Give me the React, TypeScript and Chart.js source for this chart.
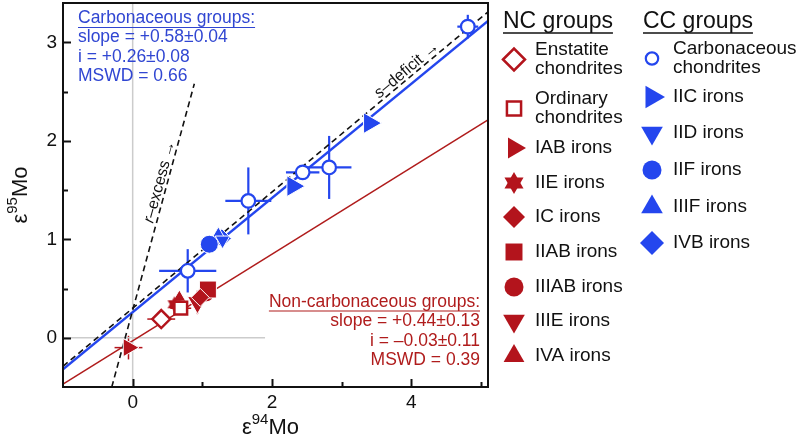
import React, { useEffect, useRef } from 'react';
import { Chart, registerables } from 'chart.js';
import { drawPoint } from 'chart.js/helpers';

Chart.register(...registerables);

const BLUE = '#2446ee';
const BLUE_TEXT = '#3046d2';
const RED = '#b3141c';
const RED_LINE = '#b01c1c';
const FONT = '"Liberation Sans", Arial, Helvetica, sans-serif';

// ---- axes ----
const xMin = -1;
const xMax = 5.1;
const yMin = -0.5;
const yMax = 3.4;
const xTicks = [0, 2, 4];
const xMinorTicks = [1, 3, 5];
const yTicks = [0, 1, 2, 3];
const yMinorTicks = [0.5, 1.5, 2.5];

// ---- CC groups (ε94Mo, ε95Mo) ----
const ccChondX = [0.79, 1.66, 2.44, 2.82, 4.81];
const ccChondY = [0.68, 1.39, 1.68, 1.73, 3.16];
const ccChondXErr = [0.41, 0.33, 0.24, 0.32, 0.15];
const ccChondYErr = [0.22, 0.34, 0.06, 0.32, 0.12];
const iicX = [2.3, 3.4];
const iicY = [1.54, 2.18];
const iidX = [1.29];
const iidY = [0.99];
const iifX = [1.1];
const iifY = [0.95];
const iiifX = [1.23];
const iiifY = [1.04];
const ivbX = [1.28];
const ivbY = [1.01];

// ---- NC groups ----
const ecX = [0.41];
const ecY = [0.19];
const ecXErr = [0.2];
const ecYErr = [0.05];
const ocX = [0.69];
const ocY = [0.3];
const ocXErr = [0.15];
const ocYErr = [0.06];
const iabX = [-0.06];
const iabY = [-0.1];
const iabXErr = [0.2];
const iabYErr = [0.12];
const iieX = [0.6];
const iieY = [0.34];
const icX = [0.97];
const icY = [0.41];
const iiabX = [1.08];
const iiabY = [0.49];
const iiiabX = [1.05];
const iiiabY = [0.45];
const iiieX = [0.93];
const iiieY = [0.36];
const iiieXErr = [0.05];
const iiieYErr = [0.12];
const ivaX = [0.67];
const ivaY = [0.41];

// ---- lines ----
const ccSlope = 0.58;
const ccIntercept = 0.26;
const ncSlope = 0.44;
const ncIntercept = -0.03;
const fitX = [xMin, xMax];
const sDefX = [-1, 5.1];
const sDefY = [-0.29, 3.31];
const rExcX = [-0.3, 0.885];
const rExcY = [-0.5, 2.58];
const refVX = [0, 0];
const refVY = [yMin, yMax];
const refHX = [xMin, 1.9];
const refHY = [0, 0];

// ---- texts ----
const ccStats = ['Carbonaceous groups:', 'slope = +0.58±0.04', 'i = +0.26±0.08', 'MSWD = 0.66'];
const ncStats = ['Non-carbonaceous groups:', 'slope = +0.44±0.13', 'i = –0.03±0.11', 'MSWD = 0.39'];
const ncTitle = 'NC groups';
const ccTitle = 'CC groups';

function makeHexagram(r: number, color: string) {
  const c = document.createElement('canvas');
  const s = Math.ceil(r * 2 + 2);
  c.width = s;
  c.height = s;
  const ctx = c.getContext('2d')!;
  ctx.fillStyle = color;
  const cx = s / 2;
  const cy = s / 2;
  for (const off of [0, Math.PI]) {
    ctx.beginPath();
    for (let k = 0; k < 3; k++) {
      const a = off + (k * 2 * Math.PI) / 3 - Math.PI / 2;
      const px = cx + r * Math.cos(a);
      const py = cy + r * Math.sin(a);
      if (k) ctx.lineTo(px, py);
      else ctx.moveTo(px, py);
    }
    ctx.closePath();
    ctx.fill();
  }
  return c;
}

type Grp = {
  label: string[];
  x: number[];
  y: number[];
  ex?: number[];
  ey?: number[];
  errW?: number;
  style: any;
  rotation?: number;
  radius: number;
  fill: string;
  border: string;
  bw: number;
  legendR: number;
  legendStyle?: any;
  legendBw?: number;
};

function zip(x: number[], y: number[]) {
  return x.map((v, i) => ({ x: v, y: y[i] }));
}

export default function App() {
  const ref = useRef<HTMLCanvasElement>(null);
  useEffect(() => {
    document.body.style.margin = '0';
    const hexPlot = makeHexagram(8, RED);
    const hexLegend = makeHexagram(11, RED);

    const ncGroups: Grp[] = [
      { label: ['Enstatite', 'chondrites'], x: ecX, y: ecY, ex: ecXErr, ey: ecYErr, errW: 1.5, style: 'rectRot', radius: 9, fill: '#ffffff', border: RED, bw: 2.5, legendR: 11 },
      { label: ['Ordinary', 'chondrites'], x: ocX, y: ocY, ex: ocXErr, ey: ocYErr, errW: 1.5, style: 'rect', radius: 9, fill: '#ffffff', border: RED, bw: 2.5, legendR: 10 },
      { label: ['IAB irons'], x: iabX, y: iabY, ex: iabXErr, ey: iabYErr, errW: 1.5, style: 'triangle', rotation: 90, radius: 10.5, fill: RED, border: '#ffffff', bw: 1, legendR: 12 },
      { label: ['IIE irons'], x: iieX, y: iieY, style: hexPlot, radius: 8, fill: RED, border: '#ffffff', bw: 1, legendR: 11, legendStyle: hexLegend },
      { label: ['IC irons'], x: icX, y: icY, style: 'rectRot', radius: 9, fill: RED, border: '#ffffff', bw: 1, legendR: 11 },
      { label: ['IIAB irons'], x: iiabX, y: iiabY, style: 'rect', radius: 12, fill: RED, border: '#ffffff', bw: 1, legendR: 12 },
      { label: ['IIIAB irons'], x: iiiabX, y: iiiabY, style: 'circle', radius: 8.5, fill: RED, border: '#ffffff', bw: 1, legendR: 9.5 },
      { label: ['IIIE irons'], x: iiieX, y: iiieY, ex: iiieXErr, ey: iiieYErr, errW: 1.5, style: 'triangle', rotation: 180, radius: 11.5, fill: RED, border: '#ffffff', bw: 1, legendR: 12.5 },
      { label: ['IVA irons'], x: ivaX, y: ivaY, style: 'triangle', radius: 7.5, fill: RED, border: '#ffffff', bw: 1, legendR: 12 },
    ];
    const ccGroups: Grp[] = [
      { label: ['Carbonaceous', 'chondrites'], x: ccChondX, y: ccChondY, ex: ccChondXErr, ey: ccChondYErr, errW: 2.2, style: 'circle', radius: 6.8, fill: '#ffffff', border: BLUE, bw: 2.2, legendR: 6.2, legendBw: 2.2 },
      { label: ['IIC irons'], x: iicX, y: iicY, style: 'triangle', rotation: 90, radius: 12, fill: BLUE, border: '#ffffff', bw: 1, legendR: 13 },
      { label: ['IID irons'], x: iidX, y: iidY, style: 'triangle', rotation: 180, radius: 8.5, fill: BLUE, border: '#ffffff', bw: 1, legendR: 12.5 },
      { label: ['IIF irons'], x: iifX, y: iifY, style: 'circle', radius: 9, fill: BLUE, border: '#ffffff', bw: 1, legendR: 9.5 },
      { label: ['IIIF irons'], x: iiifX, y: iiifY, style: 'triangle', radius: 8.5, fill: BLUE, border: '#ffffff', bw: 1, legendR: 12.5 },
      { label: ['IVB irons'], x: ivbX, y: ivbY, style: 'rectRot', radius: 9.5, fill: BLUE, border: '#ffffff', bw: 1, legendR: 12 },
    ];

    const pointSets = [...ncGroups, ...ccGroups].map((g) => ({
      type: 'scatter' as const,
      label: g.label.join(' '),
      data: zip(g.x, g.y),
      pointStyle: g.style,
      pointRotation: g.rotation || 0,
      rotation: g.rotation || 0,
      pointRadius: g.radius,
      pointHoverRadius: g.radius,
      backgroundColor: g.fill,
      borderColor: g.border,
      pointBorderWidth: g.bw,
      borderWidth: g.bw,
      errX: g.ex,
      errY: g.ey,
      errColor: g.fill === '#ffffff' ? g.border : g.fill,
      errW: g.errW || 1.5,
      order: 1,
      clip: false,
    }));

    const lineSet = (x: number[], y: number[], color: string, w: number, dash: number[], order: number) => ({
      type: 'line' as const,
      data: zip(x, y),
      borderColor: color,
      borderWidth: w,
      borderDash: dash,
      pointRadius: 0,
      fill: false,
      tension: 0,
      order,
    });

    const ccFitY = fitX.map((v) => ccSlope * v + ccIntercept);
    const ncFitY = fitX.map((v) => ncSlope * v + ncIntercept);

    const datasets: any[] = [
      ...pointSets,
      lineSet(rExcX, rExcY, '#111111', 1.6, [6, 4], 5),
      lineSet(sDefX, sDefY, '#111111', 1.6, [6, 4], 6),
      lineSet(fitX, ccFitY, BLUE, 2.4, [], 7),
      lineSet(fitX, ncFitY, RED_LINE, 1.5, [], 8),
      lineSet(refVX, refVY, '#cccccc', 1.5, [], 9),
      lineSet(refHX, refHY, '#cccccc', 1.5, [], 10),
    ];

    const errorBars = {
      id: 'errorBars',
      beforeDatasetsDraw(chart: any) {
        const ctx = chart.ctx;
        const xs = chart.scales.x;
        const ys = chart.scales.y;
        chart.data.datasets.forEach((ds: any) => {
          if (!ds.errX && !ds.errY) return;
          ctx.save();
          ctx.strokeStyle = ds.errColor;
          ctx.lineWidth = ds.errW;
          ds.data.forEach((p: any, i: number) => {
            const px = xs.getPixelForValue(p.x);
            const py = ys.getPixelForValue(p.y);
            if (ds.errX) {
              ctx.beginPath();
              ctx.moveTo(xs.getPixelForValue(p.x - ds.errX[i]), py);
              ctx.lineTo(xs.getPixelForValue(p.x + ds.errX[i]), py);
              ctx.stroke();
            }
            if (ds.errY) {
              ctx.beginPath();
              ctx.moveTo(px, ys.getPixelForValue(p.y - ds.errY[i]));
              ctx.lineTo(px, ys.getPixelForValue(p.y + ds.errY[i]));
              ctx.stroke();
            }
          });
          ctx.restore();
        });
      },
    };

    const drawUnder = (ctx: CanvasRenderingContext2D, x: number, y: number, text: string, align: 'left' | 'right') => {
      const w = ctx.measureText(text).width;
      const x0 = align === 'left' ? x : x - w;
      ctx.beginPath();
      ctx.moveTo(x0, y);
      ctx.lineTo(x0 + w, y);
      ctx.stroke();
    };

    const alongText = (chart: any, lx: number[], ly: number[], t: number, off: number, parts: [string, string][]) => {
      const ctx = chart.ctx;
      const xs = chart.scales.x;
      const ys = chart.scales.y;
      const x0 = xs.getPixelForValue(lx[0]);
      const y0 = ys.getPixelForValue(ly[0]);
      const x1 = xs.getPixelForValue(lx[1]);
      const y1 = ys.getPixelForValue(ly[1]);
      const ang = Math.atan2(y1 - y0, x1 - x0);
      const cx = x0 + (x1 - x0) * t;
      const cy = y0 + (y1 - y0) * t;
      ctx.save();
      ctx.translate(cx, cy);
      ctx.rotate(ang);
      ctx.fillStyle = '#111';
      ctx.textBaseline = 'alphabetic';
      let total = 0;
      parts.forEach(([txt, f]) => {
        ctx.font = f;
        total += ctx.measureText(txt).width;
      });
      let xx = -total / 2;
      parts.forEach(([txt, f]) => {
        ctx.font = f;
        ctx.fillText(txt, xx, -off);
        xx += ctx.measureText(txt).width;
      });
      ctx.restore();
    };

    const decor = {
      id: 'decor',
      afterDraw(chart: any) {
        const ctx: CanvasRenderingContext2D = chart.ctx;
        const { left, right, top, bottom } = chart.chartArea;
        const xs = chart.scales.x;
        const ys = chart.scales.y;
        ctx.save();
        // frame
        ctx.strokeStyle = '#111';
        ctx.lineWidth = 2;
        ctx.strokeRect(left, top, right - left, bottom - top);
        // ticks (inward)
        const tickX = (v: number, len: number) => {
          const px = Math.round(xs.getPixelForValue(v)) + 0.5;
          ctx.beginPath();
          ctx.moveTo(px, bottom);
          ctx.lineTo(px, bottom - len);
          ctx.stroke();
        };
        const tickY = (v: number, len: number) => {
          const py = Math.round(ys.getPixelForValue(v)) + 0.5;
          ctx.beginPath();
          ctx.moveTo(left, py);
          ctx.lineTo(left + len, py);
          ctx.stroke();
        };
        xTicks.forEach((v) => tickX(v, 8));
        xMinorTicks.forEach((v) => tickX(v, 5));
        yTicks.forEach((v) => tickY(v, 8));
        yMinorTicks.forEach((v) => tickY(v, 5));

        // axis titles
        ctx.fillStyle = '#111';
        ctx.textBaseline = 'alphabetic';
        const big = `22px ${FONT}`;
        const sup = `15px ${FONT}`;
        const titleParts = (n: string): [string, string, number][] => [
          ['ε', big, 0],
          [n, sup, -10],
          ['Mo', big, 0],
        ];
        const drawTitle = (n: string, cx: number, base: number) => {
          const parts = titleParts(n);
          let tw = 0;
          parts.forEach(([t, f]) => {
            ctx.font = f;
            tw += ctx.measureText(t).width;
          });
          let xx = cx - tw / 2;
          parts.forEach(([t, f, dy]) => {
            ctx.font = f;
            ctx.fillText(t, xx, base + dy);
            xx += ctx.measureText(t).width;
          });
        };
        drawTitle('94', (left + right) / 2 - 5, 434);
        ctx.save();
        ctx.translate(27, 195);
        ctx.rotate(-Math.PI / 2);
        drawTitle('95', 0, 0);
        ctx.restore();

        // stats texts
        ctx.textBaseline = 'middle';
        ctx.font = `17.5px ${FONT}`;
        ctx.fillStyle = BLUE_TEXT;
        ctx.strokeStyle = BLUE_TEXT;
        ctx.lineWidth = 1.2;
        ctx.textAlign = 'left';
        const ccY = [18.5, 37.5, 57, 76];
        ccStats.forEach((t, i) => ctx.fillText(t, left + 15, ccY[i]));
        drawUnder(ctx, left + 15, ccY[0] + 9, ccStats[0], 'left');
        ctx.fillStyle = RED_LINE;
        ctx.strokeStyle = RED_LINE;
        ctx.textAlign = 'right';
        const ncY = [302, 321.5, 341, 360];
        ncStats.forEach((t, i) => ctx.fillText(t, right - 8, ncY[i]));
        drawUnder(ctx, right - 8, ncY[0] + 9, ncStats[0], 'right');
        ctx.textAlign = 'left';

        // rotated labels
        ctx.save();
        ctx.beginPath();
        ctx.rect(left, top, right - left, bottom - top);
        ctx.clip();
        alongText(chart, rExcX, rExcY, 0.67, 3, [
          ['r', `italic 16px ${FONT}`],
          ['–excess →', `16px ${FONT}`],
        ]);
        alongText(chart, sDefX, sDefY, 0.82, 3, [
          ['s', `italic 16px ${FONT}`],
          ['–deficit →', `16px ${FONT}`],
        ]);
        ctx.restore();

        // legend
        const drawCol = (title: string, tx: number, mx: number, lx: number, groups: Grp[], ys2: number[]) => {
          ctx.fillStyle = '#111';
          ctx.strokeStyle = '#111';
          ctx.font = `23px ${FONT}`;
          ctx.textBaseline = 'middle';
          ctx.fillText(title, tx, 22);
          ctx.lineWidth = 1.5;
          drawUnder(ctx, tx, 33, title, 'left');
          groups.forEach((g, i) => {
            const cy = ys2[i];
            ctx.save();
            ctx.fillStyle = g.fill;
            ctx.strokeStyle = g.fill === '#ffffff' ? g.border : g.fill;
            const bw = g.legendBw || (g.fill === '#ffffff' ? 2.5 : 0.01);
            ctx.lineWidth = bw;
            drawPoint(ctx, { pointStyle: g.legendStyle || g.style, rotation: g.rotation || 0, radius: g.legendR, borderWidth: bw } as any, mx, cy);
            ctx.restore();
            ctx.fillStyle = '#111';
            ctx.font = `19px ${FONT}`;
            if (g.label.length === 2) {
              ctx.fillText(g.label[0], lx, cy - 9.5);
              ctx.fillText(g.label[1], lx, cy + 9.5);
            } else {
              ctx.fillText(g.label[0], lx, cy);
            }
          });
        };
        drawCol(ncTitle, 503, 514, 535, ncGroups, [59.5, 108.5, 148, 183, 217, 252, 287, 321, 356]);
        drawCol(ccTitle, 643, 652, 673, ccGroups, [58.5, 97, 133, 170, 207, 243]);
        ctx.restore();
      },
    };

    const noPad = (s: any) => {
      s.paddingTop = 0;
      s.paddingBottom = 0;
      s.paddingLeft = 0;
      s.paddingRight = 0;
    };

    const chart = new Chart(ref.current!, {
      type: 'scatter',
      data: { datasets },
      options: {
        animation: false,
        responsive: true,
        maintainAspectRatio: false,
        layout: { autoPadding: false, padding: { top: 3, right: 312, left: 0, bottom: 0 } },
        plugins: { legend: { display: false }, tooltip: { enabled: false } },
        events: [],
        scales: {
          x: {
            type: 'linear',
            min: xMin,
            max: xMax,
            grid: { display: false, drawTicks: false },
            border: { display: false },
            ticks: { font: { family: FONT, size: 19 }, color: '#111', padding: 4, maxRotation: 0 },
            afterBuildTicks: (s: any) => {
              s.ticks = xTicks.map((v) => ({ value: v }));
            },
            afterFit: (s: any) => {
              s.height = 50;
              noPad(s);
            },
          },
          y: {
            type: 'linear',
            min: yMin,
            max: yMax,
            grid: { display: false, drawTicks: false },
            border: { display: false },
            ticks: { font: { family: FONT, size: 19, lineHeight: 0.25 }, color: '#111', padding: 6 },
            afterBuildTicks: (s: any) => {
              s.ticks = yTicks.map((v) => ({ value: v }));
            },
            afterFit: (s: any) => {
              s.width = 63;
              noPad(s);
            },
          },
        },
      } as any,
      plugins: [errorBars, decor],
    });
    return () => chart.destroy();
  }, []);

  return (
    <div style={{ position: 'absolute', left: 0, top: 0, width: 800, height: 437, background: '#fff' }}>
      <canvas ref={ref} />
    </div>
  );
}
